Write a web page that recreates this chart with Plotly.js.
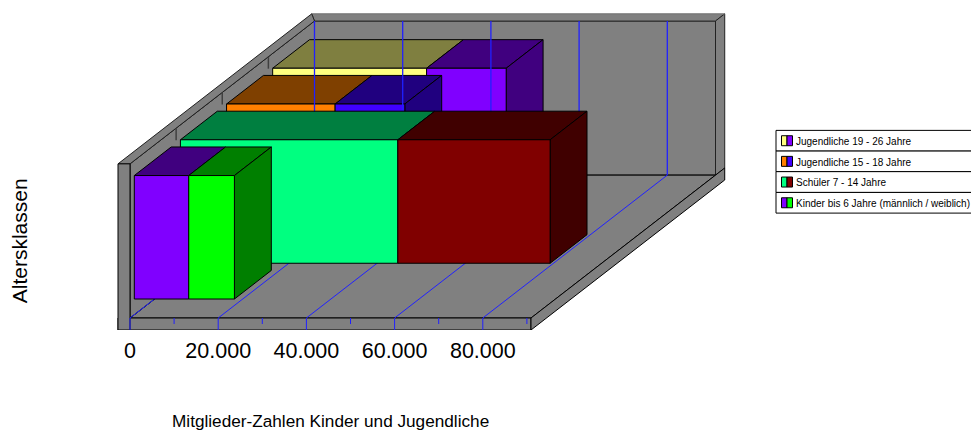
<!DOCTYPE html>
<html>
<head>
<meta charset="utf-8">
<script src="https://cdn.plot.ly/plotly-3.0.1.min.js"></script>
<style>html,body{margin:0;padding:0;background:#fff;overflow:hidden}#c{width:971px;height:430px}</style>
</head>
<body>
<div id="c"></div>
<script>
const categories = ['Kinder bis 6 Jahre (männlich / weiblich)', 'Schüler 7 - 14 Jahre', 'Jugendliche 15 - 18 Jahre', 'Jugendliche 19 - 26 Jahre'];
const firstSegment = [12340, 49300, 24620, 34900];
const secondSegment = [10360, 34530, 15800, 18050];
const firstColors = ['#8000FF', '#00FF80', '#FF8000', '#FFFF80'];
const secondColors = ['#00FF00', '#800000', '#4000FF', '#8000FF'];
const majorTicks = [0, 20000, 40000, 60000, 80000];
const minorTicks = [10000, 30000, 50000, 70000, 90000];
const tickLabels = ['0', '20.000', '40.000', '60.000', '80.000'];

// plot frame (px) and oblique projection
const L = 110, R = 735, T = 5, B = 330.3;
const ZERO_PX = 130, XMAX = 90930, pxPerUnit = 401 / XMAX;
const DX = 184.5 / pxPerUnit, DZ = 143;
const px = p => p / pxPerUnit;
const P = (x, z, d) => [x + DX * d, z + DZ * d];

const traces = [];
function poly(pts, fill, lineColor, w) {
  traces.push({type: 'scatter', mode: 'lines', x: pts.map(p => p[0]).concat(pts[0][0]), y: pts.map(p => p[1]).concat(pts[0][1]),
    fill: 'toself', fillcolor: fill, line: {color: lineColor || '#000', width: w === undefined ? 1 : w},
    hoverinfo: 'skip', showlegend: false});
}
function seg(a, b, color, w) {
  traces.push({type: 'scatter', mode: 'lines', x: [a[0], b[0]], y: [a[1], b[1]], line: {color: color, width: w},
    hoverinfo: 'skip', showlegend: false});
}
function shade(hex, k) {
  const n = parseInt(hex.slice(1), 16);
  const f = v => Math.floor(v * k);
  return 'rgb(' + f(n >> 16) + ',' + f((n >> 8) & 255) + ',' + f(n & 255) + ')';
}

const GRAY = '#808080', FLOOR = 12, TOP = 166.3, OUT = 1.05, WALLT = px(12);
// back wall and its top, right edge
poly([P(0, FLOOR, 1), P(XMAX, FLOOR, 1), P(XMAX, TOP, 1), P(0, TOP, 1)], GRAY);
poly([P(0, TOP, 1), P(XMAX, TOP, 1), P(XMAX, TOP, OUT), P(-WALLT, TOP, OUT)], GRAY, '#333');
poly([P(XMAX, FLOOR, 1), P(XMAX, TOP, 1), P(XMAX, TOP, OUT), P(XMAX, FLOOR, OUT)], GRAY, '#222');
seg(P(-WALLT, TOP, OUT), P(XMAX, TOP, OUT), '#a8a8a8', 1);
// floor
poly([P(0, FLOOR, 0), P(XMAX, FLOOR, 0), P(XMAX, FLOOR, 1), P(0, FLOOR, 1)], GRAY);
// left wall
poly([P(0, FLOOR, 0), P(0, FLOOR, 1), P(0, TOP, 1), P(0, TOP, 0)], GRAY);
poly([P(-WALLT, TOP, 0), P(0, TOP, 0), P(0, TOP, 1), P(-WALLT, TOP, OUT)], GRAY, '#222');
[0.25, 0.5, 0.75].forEach(d => seg(P(0, TOP, d), P(0, TOP - 12, d), '#404040', 1.5));
// slab front, side, left post
poly([P(-WALLT, 0, 0), P(XMAX, 0, 0), P(XMAX, FLOOR, 0), P(-WALLT, FLOOR, 0)], GRAY);
poly([P(XMAX, 0, 0), P(XMAX, FLOOR, 0), P(XMAX, FLOOR, OUT), P(XMAX, 0, OUT)], GRAY);
poly([P(-WALLT, 0, 0), P(0, 0, 0), P(0, TOP, 0), P(-WALLT, TOP, 0)], GRAY);
// floor grid
majorTicks.forEach(v => {
  seg(P(v, FLOOR, 0), P(v, FLOOR, 1), '#2020FF', 1);
  seg(P(v, 0, 0), P(v, FLOOR, 0), '#2020FF', 1);
});
minorTicks.forEach(v => seg(P(v, FLOOR, 0), P(v, FLOOR - 6, 0), '#2020FF', 1));

// bars
const BAR_H = 123.6, BAR_D = 0.2, STEP_D = 0.25, STEP_Z = 35.8, BASE_Z = 31, BASE_D = 0.0233;
function bar(i) {
  const x0 = DX * (BASE_D + STEP_D * i);
  const z0 = BASE_Z + STEP_Z * i;
  const box = (a, b, c, side) => {
    const p = (x, z, d) => [x0 + x + DX * d, z0 + z + DZ * d];
    poly([p(a, BAR_H, 0), p(b, BAR_H, 0), p(b, BAR_H, BAR_D), p(a, BAR_H, BAR_D)], shade(c, 0.5));
    if (side) poly([p(b, 0, 0), p(b, 0, BAR_D), p(b, BAR_H, BAR_D), p(b, BAR_H, 0)], shade(c, 0.5));
    poly([p(a, 0, 0), p(b, 0, 0), p(b, BAR_H, 0), p(a, BAR_H, 0)], c);
  };
  box(0, firstSegment[i], firstColors[i], false);
  box(firstSegment[i], firstSegment[i] + secondSegment[i], secondColors[i], true);
}
bar(3);
bar(2);
// back wall grid lines cross the two rear bars
majorTicks.forEach(v => seg(P(v, FLOOR, 1), P(v, TOP, 1), '#2020FF', 1.3));
bar(1);
bar(0);

// legend and titles placed in page pixels
const W = 971, H = 430;
const xp = p => (p - L) / (R - L);
const yp = p => (B - p) / (B - T);
const shapes = [], annotations = [];
const rowTops = [130.5, 151.2, 171.8, 192.6, 213.3];
const rectShape = (x0, y0, x1, y1, fill) => ({type: 'rect', xref: 'paper', yref: 'paper', x0: xp(x0), x1: xp(x1), y0: yp(y0), y1: yp(y1),
  fillcolor: fill, line: {color: '#000', width: 1}});
categories.slice().reverse().forEach((name, r) => {
  const i = categories.length - 1 - r;
  const y0 = rowTops[r], y1 = rowTops[r + 1];
  shapes.push(rectShape(776, y0, 985, y1, '#fff'));
  const mid = (y0 + y1) / 2;
  shapes.push(rectShape(781.5, mid - 5, 787, mid + 5, firstColors[i]));
  shapes.push(rectShape(787, mid - 5, 792.5, mid + 5, secondColors[i]));
  annotations.push({xref: 'paper', yref: 'paper', x: xp(796), y: yp(mid + 0.7), xanchor: 'left', yanchor: 'middle', showarrow: false,
    text: name, font: {family: 'Liberation Sans', size: 10, color: '#000'}, borderpad: 0, borderwidth: 0});
});
annotations.push({xref: 'paper', yref: 'paper', x: xp(330.5), y: yp(421), xanchor: 'center', yanchor: 'middle', showarrow: false,
  text: 'Mitglieder-Zahlen Kinder und Jugendliche', font: {family: 'Liberation Sans', size: 17.2, color: '#000'}});
annotations.push({xref: 'paper', yref: 'paper', x: xp(19.5), y: yp(241), xanchor: 'center', yanchor: 'middle', showarrow: false, textangle: -90,
  text: 'Altersklassen', font: {family: 'Liberation Sans', size: 21, color: '#000'}});

const layout = {
  width: W, height: H, margin: {l: L, r: W - R, t: T, b: H - B, pad: 0}, paper_bgcolor: '#fff', plot_bgcolor: 'rgba(0,0,0,0)',
  showlegend: false, hovermode: false,
  font: {family: 'Liberation Sans', color: '#000'},
  xaxis: {range: [px(L - ZERO_PX), px(R - ZERO_PX)], fixedrange: true, showgrid: false, zeroline: false, showline: false,
    tickmode: 'array', tickvals: majorTicks, ticktext: tickLabels, ticks: 'outside', ticklen: 1, tickcolor: 'rgba(0,0,0,0)',
    tickfont: {family: 'Liberation Sans', size: 21.5, color: '#000'}, automargin: false},
  yaxis: {range: [0, B - T], fixedrange: true, showgrid: false, zeroline: false, showline: false, showticklabels: false, ticks: '', automargin: false},
  shapes, annotations
};
Plotly.newPlot('c', traces, layout, {displayModeBar: false, staticPlot: true});
</script>
</body>
</html>
